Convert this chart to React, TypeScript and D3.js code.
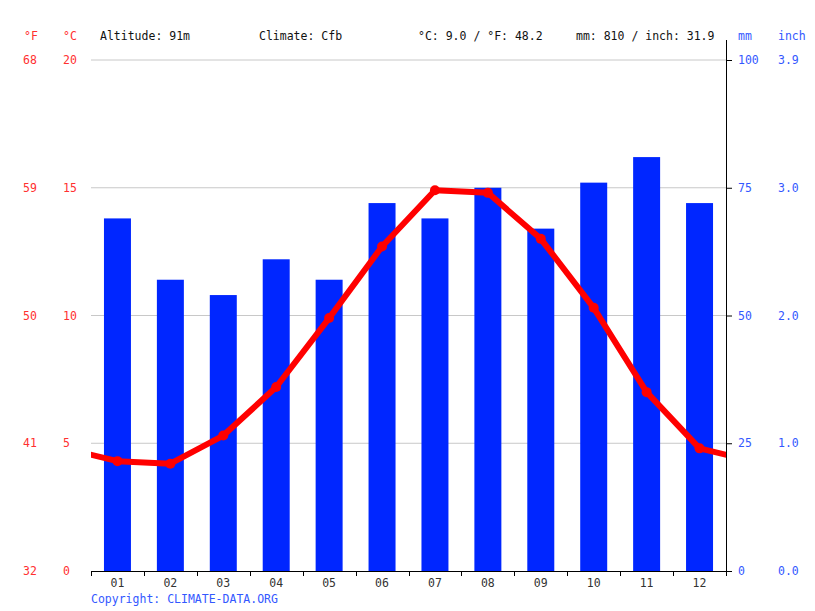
import React, { useEffect, useRef } from 'react';
import * as d3 from 'd3';

const months = ['01', '02', '03', '04', '05', '06', '07', '08', '09', '10', '11', '12'];
const precipitationMm = [69, 57, 54, 61, 57, 72, 69, 75, 67, 76, 81, 72];
const temperatureC = [4.3, 4.2, 5.3, 7.2, 9.9, 12.7, 14.9, 14.8, 13.0, 10.3, 7.0, 4.8];
const celsiusTicks = [0, 5, 10, 15, 20];
const fahrenheitLabels = ['32', '41', '50', '59', '68'];
const mmTicks = [0, 25, 50, 75, 100];
const inchLabels = ['0.0', '1.0', '2.0', '3.0', '3.9'];
const headerItems = [
  { x: 100, text: 'Altitude: 91m' },
  { x: 259, text: 'Climate: Cfb' },
  { x: 418, text: '°C: 9.0 / °F: 48.2' },
  { x: 576, text: 'mm: 810 / inch: 31.9' },
];

const FONT = '"DejaVu Sans Mono", monospace';
const RED = '#ff0000';
const RED_TEXT = '#ff3030';
const BLUE_BAR = '#0026ff';
const BLUE_TEXT = '#3358ff';

export default function App() {
  const svgRef = useRef<SVGSVGElement>(null);

  useEffect(() => {
    if (!svgRef.current) return;
    const svg = d3.select(svgRef.current);
    svg.selectAll('*').remove();

    const left = 91;
    const right = 726;
    const top = 60;
    const bottom = 571;

    const x = d3.scaleBand<string>()
      .domain(months)
      .range([left, right])
      .paddingInner(0.49)
      .paddingOuter(0.245);
    const step = x.step();
    const xIdx = d3.scaleLinear().domain([-0.5, 11.5]).range([left, right]);

    const yT = d3.scaleLinear().domain([0, 20]).range([bottom, top]);
    const yP = d3.scaleLinear().domain([0, 100]).range([bottom, top]);

    // grid
    svg.append('g')
      .selectAll('line')
      .data(celsiusTicks.filter(d => d > 0))
      .enter()
      .append('line')
      .attr('x1', left)
      .attr('x2', right)
      .attr('y1', d => yT(d))
      .attr('y2', d => yT(d))
      .attr('stroke', '#c8c8c8')
      .attr('stroke-width', 1);

    // bars
    svg.append('g')
      .selectAll('rect')
      .data(precipitationMm)
      .enter()
      .append('rect')
      .attr('x', (_d, i) => x(months[i]) as number)
      .attr('width', x.bandwidth())
      .attr('y', d => yP(d))
      .attr('height', d => bottom - yP(d))
      .attr('fill', BLUE_BAR);

    // temperature line, wrapped around the year and clipped to plot
    svg.append('clipPath')
      .attr('id', 'plot-clip')
      .append('rect')
      .attr('x', left)
      .attr('y', top - 10)
      .attr('width', right - left)
      .attr('height', bottom - top + 10);

    const pts: [number, number][] = [
      [-1, temperatureC[11]],
      ...temperatureC.map((t, i) => [i, t] as [number, number]),
      [12, temperatureC[0]],
    ];
    const line = d3.line<[number, number]>()
      .x(d => xIdx(d[0]))
      .y(d => yT(d[1]));

    svg.append('path')
      .attr('d', line(pts))
      .attr('clip-path', 'url(#plot-clip)')
      .attr('fill', 'none')
      .attr('stroke', RED)
      .attr('stroke-width', 6)
      .attr('stroke-linejoin', 'round');

    svg.append('g')
      .selectAll('circle')
      .data(temperatureC)
      .enter()
      .append('circle')
      .attr('cx', (_d, i) => xIdx(i))
      .attr('cy', d => yT(d))
      .attr('r', 5)
      .attr('fill', RED);

    // bottom axis
    const bx = svg.append('g');
    bx.append('line')
      .attr('x1', left).attr('x2', right)
      .attr('y1', bottom + 0.5).attr('y2', bottom + 0.5)
      .attr('stroke', '#000');
    bx.selectAll('line.tick')
      .data(d3.range(13))
      .enter()
      .append('line')
      .attr('class', 'tick')
      .attr('x1', i => Math.round(left + i * step) + 0.5)
      .attr('x2', i => Math.round(left + i * step) + 0.5)
      .attr('y1', bottom)
      .attr('y2', bottom + 5)
      .attr('stroke', '#000');
    bx.selectAll('text')
      .data(months)
      .enter()
      .append('text')
      .attr('x', d => (x(d) as number) + x.bandwidth() / 2)
      .attr('y', 587)
      .attr('text-anchor', 'middle')
      .attr('font-family', FONT)
      .attr('font-size', '11.5px')
      .attr('fill', '#333')
      .text(d => d);

    // right axis
    const ry = svg.append('g');
    ry.append('line')
      .attr('x1', right + 0.5).attr('x2', right + 0.5)
      .attr('y1', 40).attr('y2', bottom + 4)
      .attr('stroke', '#000');
    ry.selectAll('line.tick')
      .data(mmTicks)
      .enter()
      .append('line')
      .attr('class', 'tick')
      .attr('x1', right)
      .attr('x2', right + 6)
      .attr('y1', d => yP(d) + 0.5)
      .attr('y2', d => yP(d) + 0.5)
      .attr('stroke', '#000');
    ry.selectAll('text.mm')
      .data(mmTicks)
      .enter()
      .append('text')
      .attr('class', 'mm')
      .attr('x', 738)
      .attr('y', d => yP(d))
      .attr('dy', '0.35em')
      .attr('font-family', FONT)
      .attr('font-size', '11.5px')
      .attr('fill', BLUE_TEXT)
      .text(d => String(d));
    ry.selectAll('text.inch')
      .data(mmTicks)
      .enter()
      .append('text')
      .attr('class', 'inch')
      .attr('x', 778)
      .attr('y', d => yP(d))
      .attr('dy', '0.35em')
      .attr('font-family', FONT)
      .attr('font-size', '11.5px')
      .attr('fill', BLUE_TEXT)
      .text((_d, i) => inchLabels[i]);

    // left labels
    const ly = svg.append('g');
    ly.selectAll('text.f')
      .data(celsiusTicks)
      .enter()
      .append('text')
      .attr('class', 'f')
      .attr('x', 23)
      .attr('y', d => yT(d))
      .attr('dy', '0.35em')
      .attr('font-family', FONT)
      .attr('font-size', '11.5px')
      .attr('fill', RED_TEXT)
      .text((_d, i) => fahrenheitLabels[i]);
    ly.selectAll('text.c')
      .data(celsiusTicks)
      .enter()
      .append('text')
      .attr('class', 'c')
      .attr('x', 63)
      .attr('y', d => yT(d))
      .attr('dy', '0.35em')
      .attr('font-family', FONT)
      .attr('font-size', '11.5px')
      .attr('fill', RED_TEXT)
      .text(d => String(d));

    // unit headers
    const units = [
      { x: 24, text: '°F', fill: RED_TEXT },
      { x: 63, text: '°C', fill: RED_TEXT },
      { x: 738, text: 'mm', fill: BLUE_TEXT },
      { x: 778, text: 'inch', fill: BLUE_TEXT },
    ];
    svg.append('g')
      .selectAll('text')
      .data(units)
      .enter()
      .append('text')
      .attr('x', d => d.x)
      .attr('y', 40)
      .attr('font-family', FONT)
      .attr('font-size', '11.5px')
      .attr('fill', d => d.fill)
      .text(d => d.text);

    svg.append('g')
      .selectAll('text')
      .data(headerItems)
      .enter()
      .append('text')
      .attr('x', d => d.x)
      .attr('y', 40)
      .attr('font-family', FONT)
      .attr('font-size', '11.5px')
      .attr('fill', '#111')
      .text(d => d.text);

    svg.append('text')
      .attr('x', 91)
      .attr('y', 603)
      .attr('font-family', FONT)
      .attr('font-size', '11.5px')
      .attr('fill', BLUE_TEXT)
      .text('Copyright: CLIMATE-DATA.ORG');
  }, []);

  return (
    <svg
      ref={svgRef}
      width={815}
      height={611}
      style={{ position: 'fixed', left: 0, top: 0, display: 'block', background: '#fff' }}
    />
  );
}
